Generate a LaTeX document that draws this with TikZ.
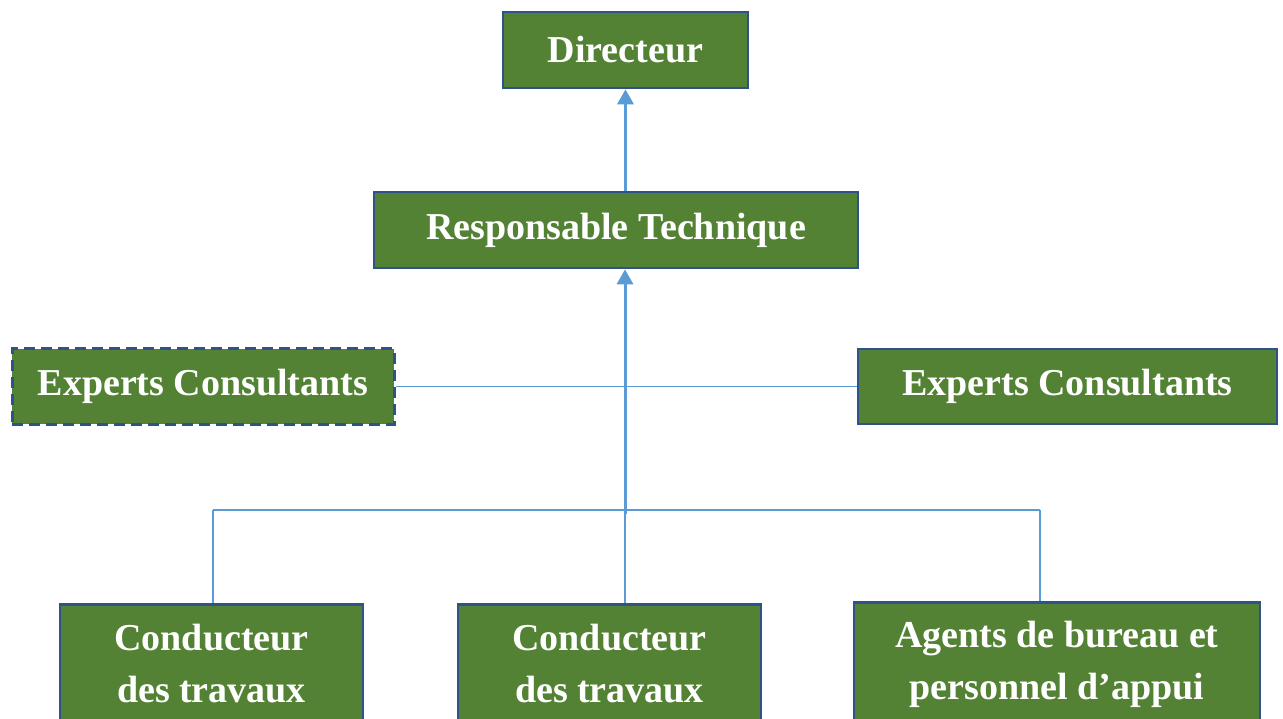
\documentclass[tikz,border=0pt]{standalone}
\usepackage{fontspec}
\setmainfont{Liberation Serif}
\usetikzlibrary{arrows.meta}
\definecolor{boxgreen}{HTML}{548235}
\definecolor{boxborder}{HTML}{2F528F}
\definecolor{linkblue}{HTML}{5B9BD5}
\tikzset{
  box/.style={draw=boxborder, line width=2.6pt, fill=boxgreen, text=white,
    font=\fontsize{38}{52}\selectfont\bfseries, align=center, inner sep=0pt},
  thinlink/.style={draw=linkblue, line width=1.3pt},
  thicklink/.style={draw=linkblue, line width=3pt, -{Triangle[width=16pt,length=15pt]}},
}
\begin{document}
\begin{tikzpicture}[x=1pt,y=-1pt]
\useasboundingbox (0,0) rectangle (1283,719);
\clip (0,0) rectangle (1283,719);
\coordinate (jL) at (213,510);
\coordinate (jM) at (625,510);
\coordinate (jR) at (1040,510);
\coordinate (jT) at (625,514);
% boxes
\node[box, minimum width=245, minimum height=76] (dir) at (625.5,50) {Directeur};
\node[box, minimum width=484, minimum height=76] (rt) at (616,230) {Responsable Technique};
\node[box, dash pattern=on 11pt off 6pt, line width=3pt, minimum width=382, minimum height=75] (expL) at (203,386.5) {Experts Consultants};
\node[box, minimum width=419, minimum height=75] (expR) at (1067.5,386.5) {Experts Consultants};
\node[box, minimum width=303, minimum height=118, anchor=north] (c1) at (211.5,603) {Conducteur\\des travaux};
\node[box, minimum width=303, minimum height=118, anchor=north] (c2) at (609.5,603) {Conducteur\\des travaux};
\node[box, minimum width=406, minimum height=125, anchor=north] (ag) at (1057,601) {Agents de bureau et\\personnel d’appui};
% connectors
\draw[thinlink] (expL.east) -- (expR.west);
\draw[thinlink] (jL) -- (jR);
\draw[thinlink] (jL) -- (jL |- c1.north);
\draw[thinlink] (jM) -- (jM |- c2.north);
\draw[thinlink] (jR) -- (jR |- ag.north);
\draw[thicklink] (jT) -- (jT |- rt.south);
\draw[thicklink] (rt.north -| dir.south) -- (dir.south);
\end{tikzpicture}
\end{document}
